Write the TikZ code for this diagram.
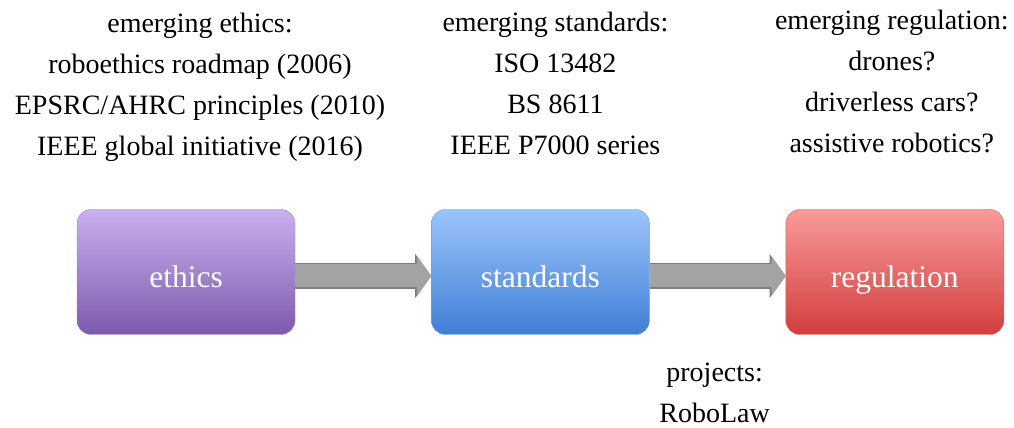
\documentclass[tikz,border=0pt]{standalone}
\usepackage{fontspec}
\setmainfont{Liberation Serif}
\usepackage{tikz}
\usetikzlibrary{arrows.meta,positioning}

\definecolor{ethtop}{HTML}{C9B0EE}
\definecolor{ethbot}{HTML}{7D5AAD}
\definecolor{ethedge}{HTML}{9B82C2}
\definecolor{stdtop}{HTML}{9CC4FA}
\definecolor{stdbot}{HTML}{3F7FD6}
\definecolor{stdedge}{HTML}{6E9CD9}
\definecolor{regtop}{HTML}{F99A9A}
\definecolor{regbot}{HTML}{D23D3D}
\definecolor{regedge}{HTML}{D56565}
\definecolor{flowfill}{HTML}{A3A3A3}
\definecolor{flowedge}{HTML}{7F7F7F}

\begin{document}
\begin{tikzpicture}[x=1pt,y=1pt,node distance=136pt,
				stage node/.style={rectangle,rounded corners=14pt,minimum width=218pt,minimum height=125pt,
					text height=31pt,text depth=0pt,text=white,font=\fontsize{31.5}{36}\selectfont},
				note/.style={align=center,inner sep=0pt,font=\fontsize{28}{41}\selectfont},
				flow/.style={line width=23pt,color=flowfill,-{Triangle[length=14pt,width=40pt,line width=0pt]},
					preaction={draw=flowedge,line width=26pt,-{Triangle[length=16pt,width=44pt,line width=0pt]}}}]
				
				\useasboundingbox (0,0) rectangle (1014,428);
				
				\node[stage node,top color=ethtop,bottom color=ethbot,draw=ethedge] (ethics) at (186,156) {ethics};
				\node[stage node,top color=stdtop,bottom color=stdbot,draw=stdedge] (standards) [right=of ethics] {standards};
				\node[stage node,top color=regtop,bottom color=regbot,draw=regedge] (regulation) [right=of standards] {regulation};
				
				\node[note] (ethicsnote) [above=48pt of ethics,xshift=14pt]
				{emerging ethics:\\roboethics roadmap (2006)\\EPSRC/AHRC principles (2010)\\IEEE global initiative (2016)};
				\node[note] (standardsnote) [above=54pt of standards,xshift=15pt]
				{emerging standards:\\ISO 13482\\BS 8611\\IEEE P7000 series};
				\node[note] (regulationnote) [above=56pt of regulation,xshift=-3pt]
				{emerging regulation:\\drones?\\driverless cars?\\assistive robotics?};
				\node[note] (projectsnote) [below=28pt of standards.south east,xshift=65pt]
				{projects:\\RoboLaw};
				
				\draw[flow] ([yshift=-4pt]ethics.east) -- ([yshift=-4pt]standards.west);
				\draw[flow] ([yshift=-4pt]standards.east) -- ([yshift=-4pt]regulation.west);
				
\end{tikzpicture}
\end{document}
